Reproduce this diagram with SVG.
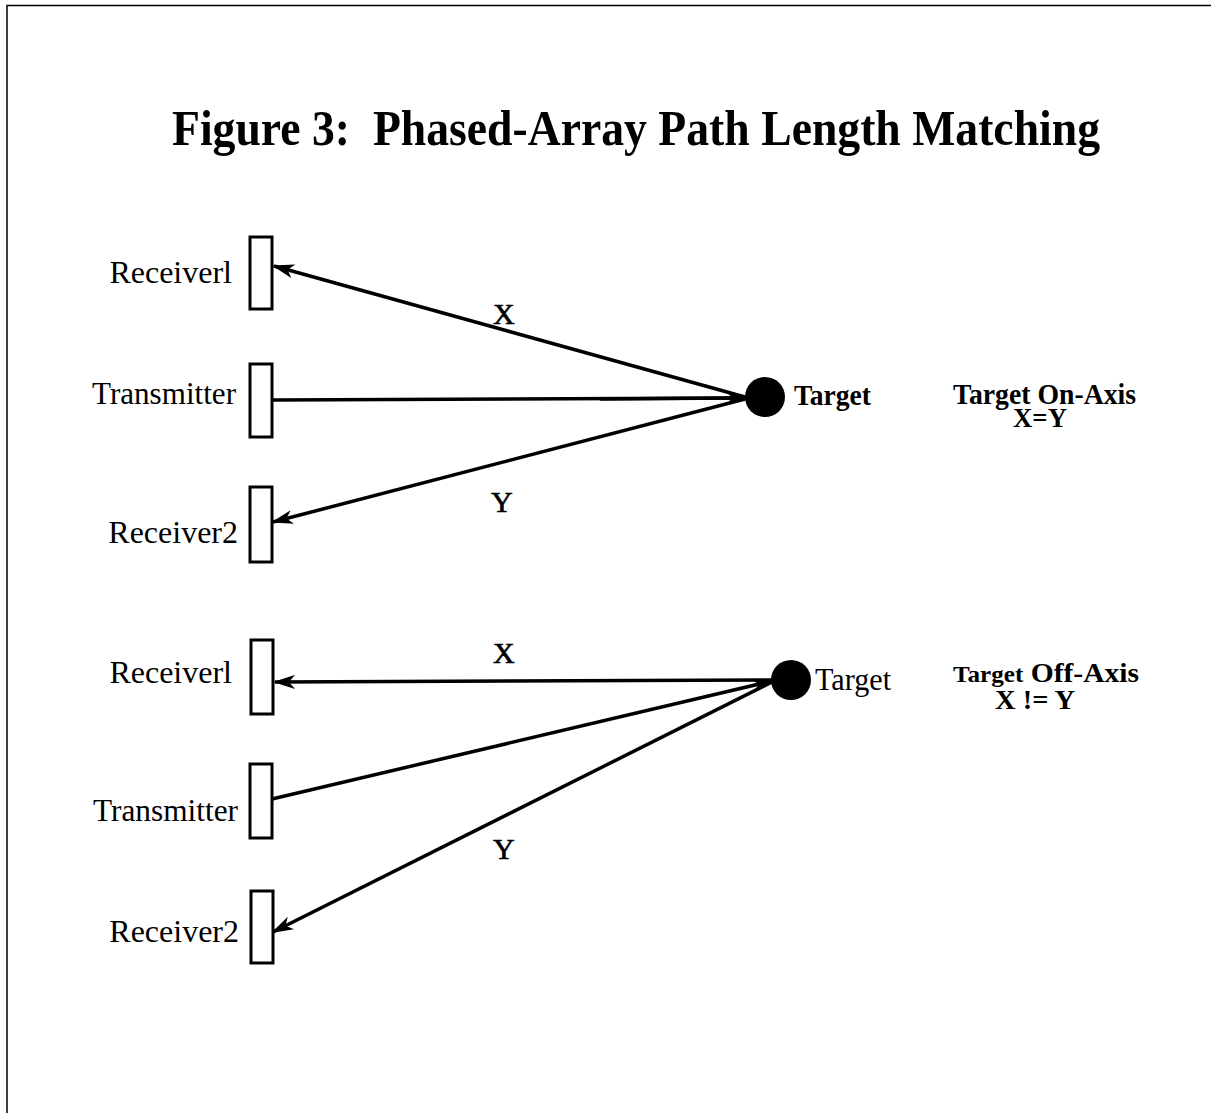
<svg xmlns="http://www.w3.org/2000/svg" width="1211" height="1113" viewBox="0 0 1211 1113">
  <style>
    .lbl { font-family: "Liberation Serif", "Times New Roman", serif; font-size: 32px; fill: #000; }
    .bold { font-family: "Liberation Serif", "Times New Roman", serif; font-weight: bold; fill: #000; }
    .box { fill: #fff; stroke: #000; stroke-width: 3; }
    .ray { stroke: #000; stroke-width: 3.5; fill: none; }
    .xy { font-family: "Liberation Serif", "Times New Roman", serif; font-size: 30px; fill: #000; stroke: #000; stroke-width: 0.7; }
  </style>
  <defs>
    <marker id="arr" viewBox="0 0 22 14" refX="20" refY="7" markerWidth="22" markerHeight="14" markerUnits="userSpaceOnUse" orient="auto">
      <path d="M0,0 L22,7 L0,14 L6,7 Z" fill="#000"/>
    </marker>
  </defs>
  <rect width="1211" height="1113" fill="#fff"/>
  <polyline points="7,1113 7,5.5 1211,5.5" fill="none" stroke="#000" stroke-width="1.5"/>

  <text id="title" class="bold" x="172" y="145" font-size="51" textLength="928" lengthAdjust="spacingAndGlyphs" xml:space="preserve">Figure 3:  Phased-Array Path Length Matching</text>

  <g id="connectors">
    <line class="ray" x1="745" y1="397" x2="274" y2="266" marker-end="url(#arr)"/>
    <line class="ray" x1="273" y1="400" x2="746" y2="398" stroke-width="2" marker-end="url(#arr)"/>
    <line class="ray" x1="600" y1="399" x2="735" y2="398" stroke-width="4.5"/>
    <line class="ray" x1="745" y1="399" x2="273" y2="522" marker-end="url(#arr)"/>
    <line class="ray" x1="772" y1="680" x2="275" y2="682" marker-end="url(#arr)"/>
    <line class="ray" x1="272" y1="799" x2="772" y2="681" marker-end="url(#arr)"/>
    <line class="ray" x1="772" y1="682" x2="273" y2="932" marker-end="url(#arr)"/>
  </g>

  <g id="top-receiver1">
    <rect class="box" x="250" y="237" width="22" height="72"/>
    <text class="lbl" x="232" y="283" text-anchor="end">Receiverl</text>
  </g>
  <g id="top-transmitter">
    <rect class="box" x="250" y="364" width="22" height="73"/>
    <text class="lbl" x="92" y="404" textLength="144" lengthAdjust="spacingAndGlyphs">Transmitter</text>
  </g>
  <g id="top-receiver2">
    <rect class="box" x="250" y="487" width="22" height="75"/>
    <text class="lbl" x="238" y="543" text-anchor="end">Receiver2</text>
  </g>
  <g id="top-target">
    <circle cx="765" cy="397" r="20" fill="#000"/>
    <text class="bold" x="794" y="405" font-size="30" textLength="77" lengthAdjust="spacingAndGlyphs">Target</text>
  </g>
  <text class="xy" x="493" y="324">X</text>
  <text class="xy" x="491" y="512">Y</text>
  <g id="top-caption">
    <text class="bold" x="953" y="404" font-size="30" textLength="183" lengthAdjust="spacingAndGlyphs">Target On-Axis</text>
    <text class="bold" x="1013" y="427" font-size="28" textLength="54" lengthAdjust="spacingAndGlyphs">X=Y</text>
  </g>

  <g id="bot-receiver1">
    <rect class="box" x="251" y="640" width="22" height="74"/>
    <text class="lbl" x="232" y="683" text-anchor="end">Receiverl</text>
  </g>
  <g id="bot-transmitter">
    <rect class="box" x="250" y="764" width="22" height="74"/>
    <text class="lbl" x="93" y="821" textLength="145" lengthAdjust="spacingAndGlyphs">Transmitter</text>
  </g>
  <g id="bot-receiver2">
    <rect class="box" x="251" y="891" width="22" height="72"/>
    <text class="lbl" x="239" y="942" text-anchor="end">Receiver2</text>
  </g>
  <g id="bot-target">
    <circle cx="791" cy="680" r="20" fill="#000"/>
    <text class="lbl" x="815" y="690" font-size="30" textLength="76" lengthAdjust="spacingAndGlyphs">Target</text>
  </g>
  <text class="xy" x="493" y="663">X</text>
  <text class="xy" x="493" y="859">Y</text>
  <g id="bot-caption">
    <text class="bold" x="953" y="682" font-size="27" textLength="186" lengthAdjust="spacingAndGlyphs"><tspan font-size="23">Target</tspan> Off-Axis</text>
    <text class="bold" x="995" y="709" font-size="28" textLength="80" lengthAdjust="spacingAndGlyphs" xml:space="preserve">X != Y</text>
  </g>
</svg>
